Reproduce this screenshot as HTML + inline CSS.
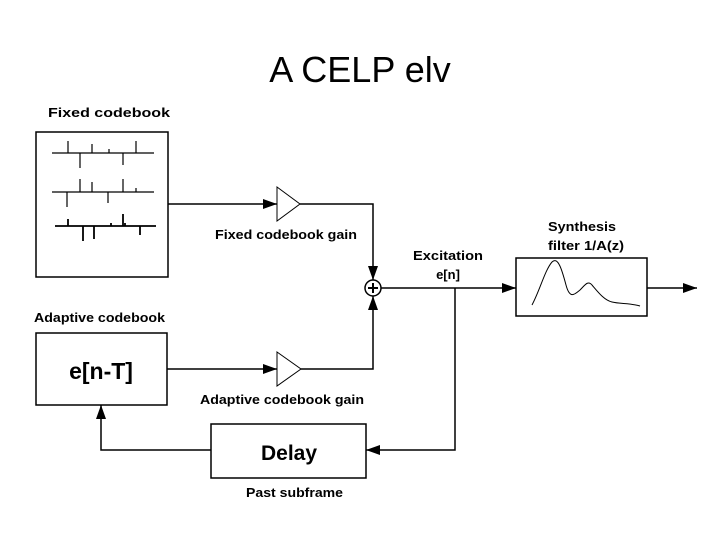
<!DOCTYPE html>
<html><head><style>
body{margin:0;background:#fff}
svg{display:block}
text{font-family:"Liberation Sans",sans-serif;fill:#000}
.b{font-weight:bold;font-size:13px}
</style></head><body>
<svg width="720" height="540" viewBox="0 0 720 540">
<defs>
<marker id="a" markerWidth="14" markerHeight="10" refX="14" refY="5" orient="auto" markerUnits="userSpaceOnUse"><path d="M0,0 L14,5 L0,10 Z" fill="#000"/></marker>
</defs>
<text x="360" y="82" font-size="36" text-anchor="middle">A CELP elv</text>
<g stroke="#000" fill="none" stroke-width="1.5">
<rect x="36" y="132" width="132" height="145"/>
<rect x="36" y="333" width="131" height="72"/>
<rect x="211" y="424" width="155" height="54"/>
<rect x="516" y="258" width="131" height="58"/>
<circle cx="373" cy="288" r="8"/>
<path d="M373,283 V293 M368,288 H378" stroke-width="2"/>
<path d="M277,187 L300,204 L277,221 Z" stroke-width="1"/>
<path d="M277,352 L301,369 L277,386 Z" stroke-width="1"/>
<path d="M168,204 H277" marker-end="url(#a)"/>
<path d="M300,204 H373 V280" marker-end="url(#a)"/>
<path d="M167,369 H277" marker-end="url(#a)"/>
<path d="M301,369 H373 V296" marker-end="url(#a)"/>
<path d="M381,288 H516" marker-end="url(#a)"/>
<path d="M647,288 H697" marker-end="url(#a)"/>
<path d="M455,288 V450 H366" marker-end="url(#a)"/>
<path d="M211,450 H101 V405" marker-end="url(#a)"/>
<path d="M532,305 C540,290 545,270 552,262 C558,256 562,270 566,285 C570,300 575,294 580,290 C585,285 588,280 592,285 C598,292 604,300 612,302 C620,304 630,303 640,306" stroke-width="1"/>
<g stroke-width="1.2">
<path d="M52,153 H154 M68,153 V141 M92,153 V144 M109,153 V149 M136,153 V141 M80,153 V168 M123,153 V165"/>
<path d="M52,192 H154 M80,192 V179 M92,192 V182 M123,192 V179 M136,192 V188 M67,192 V207 M108,192 V203"/>
<path d="M55,226 H156 M68,226 V219 M111,226 V223 M123,226 V214 M125,226 V223 M83,226 V241 M94,226 V239 M140,226 V235" stroke-width="1.8"/>
</g>
</g>
<text class="b" x="48" y="117" textLength="122" lengthAdjust="spacingAndGlyphs">Fixed codebook</text>
<text class="b" x="215" y="239" textLength="142" lengthAdjust="spacingAndGlyphs">Fixed codebook gain</text>
<text class="b" x="34" y="322" textLength="131" lengthAdjust="spacingAndGlyphs">Adaptive codebook</text>
<text class="b" x="200" y="404" textLength="164" lengthAdjust="spacingAndGlyphs">Adaptive codebook gain</text>
<text class="b" x="246" y="497" textLength="97" lengthAdjust="spacingAndGlyphs">Past subframe</text>
<text class="b" x="413" y="260" textLength="70" lengthAdjust="spacingAndGlyphs">Excitation</text>
<text class="b" x="448" y="279" text-anchor="middle">e[n]</text>
<text class="b" x="548" y="231" textLength="68" lengthAdjust="spacingAndGlyphs">Synthesis</text>
<text class="b" x="548" y="250" textLength="76" lengthAdjust="spacingAndGlyphs">filter 1/A(z)</text>
<text x="101" y="379" font-size="23" font-weight="bold" text-anchor="middle">e[n-T]</text>
<text x="289" y="460" font-size="21" font-weight="bold" text-anchor="middle">Delay</text>
</svg>
</body></html>
